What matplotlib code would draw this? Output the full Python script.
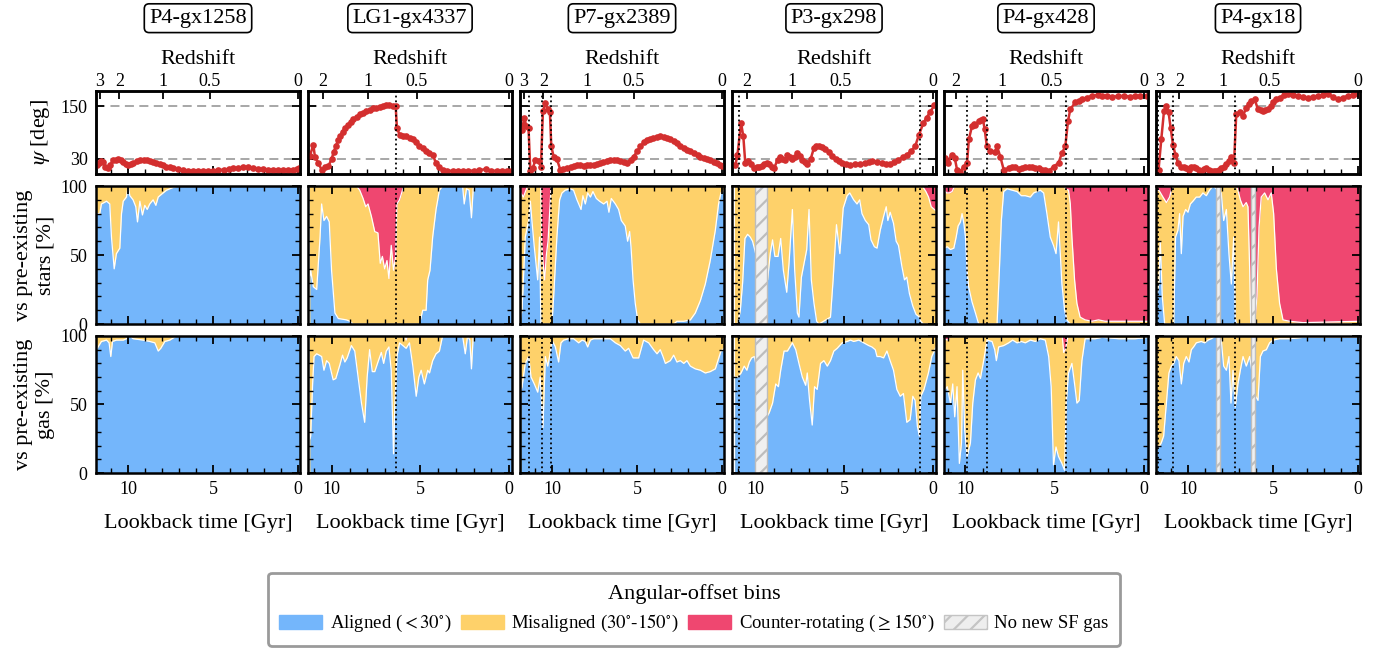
import numpy as np
import matplotlib.pyplot as plt
from matplotlib.patches import Patch
from matplotlib.ticker import MultipleLocator

# ---------------- data ----------------
names = ['P4-gx1258', 'LG1-gx4337', 'P7-gx2389', 'P3-gx298', 'P4-gx428', 'P4-gx18']
xlims = [(11.9, -0.1), (11.35, -0.17), (11.9, -0.1), (11.35, -0.17), (11.2, -0.22), (11.9, -0.1)]
events = [[], [6.4], [11.35, 10.6, 10.1], [10.95, 0.73], [9.9, 8.77, 4.36], [11.76, 10.9, 7.24]]
no_gas = [[], [], [], [(10.06, 9.38)], [], [(8.35, 8.12), (6.3, 6.06)]]
z_ticks = [3, 2, 1, 0.5, 0]
z_labels = ['3', '2', '1', '0.5', '0']

# P4-gx1258
p1_psi_t = [11.87, 11.75, 11.6, 11.48, 11.35, 11.2, 11.05, 10.9, 10.75, 10.6, 10.45, 10.3, 10.15, 10.0,
            9.85, 9.7, 9.5, 9.3, 9.1, 8.9, 8.7, 8.54, 8.35, 8.15, 7.95, 7.76, 7.55, 7.36, 7.05, 6.77,
            6.5, 6.19, 5.9, 5.6, 5.3, 5.0, 4.7, 4.4, 4.1, 3.83, 3.55, 3.24, 2.95, 2.66, 2.35, 2.07,
            1.8, 1.48, 1.2, 0.9, 0.6, 0.31, 0.1, -0.07]
p1_psi = [16, 20, 24, 22, 12, 8, 16, 27, 28, 29, 26, 22, 18, 16, 18, 20, 24, 27, 28, 28, 25, 22, 20, 18,
          15, 12, 10, 8, 6, 4, 3, 3, 2, 2, 2, 3, 4, 5, 6, 8, 9, 10, 10, 9, 7, 6, 5, 5, 4, 4, 5, 5, 6, 8]
p1_star_t = [11.87, 11.68, 11.58, 11.28, 11.09, 10.99, 10.83, 10.70, 10.50, 10.40, 10.30, 10.11, 10.01,
             9.91, 9.72, 9.56, 9.46, 9.32, 9.17, 9.03, 8.89, 8.74, 8.54, 8.38, 8.24, 8.05, 7.75, 7.36,
             7.07, -0.1]
p1_star_al = [80, 80, 87, 89, 87, 63, 40, 51, 55, 80, 89, 92, 100, 93, 90, 85, 74, 89, 79, 86, 83, 87,
              90, 86, 92, 94, 97, 99, 100, 100]
p1_star_cr_t = []
p1_star_cr = []
p1_gas_t = [11.87, 11.78, 11.58, 11.28, 11.13, 11.03, 10.93, 10.7, 10.3, 10.11, 9.91, 9.72, 9.13, 8.74,
            8.44, 8.24, 8.09, 7.85, 7.56, 7.17, -0.1]
p1_gas_al = [90, 92, 96, 97, 95, 85, 96, 97, 97, 98, 100, 98, 97, 96, 95, 89, 91, 96, 97, 100, 100]
p1_gas_cr_t = []
p1_gas_cr = []

# LG1-gx4337
p2_psi_t = [11.24, 11.05, 10.96, 10.77, 10.58, 10.39, 10.2, 10.02, 9.9, 9.77, 9.65, 9.55, 9.4, 9.25,
            9.1, 8.95, 8.8, 8.6, 8.43, 8.25, 8.05, 7.85, 7.68, 7.5, 7.3, 7.1, 6.93, 6.75, 6.55, 6.4,
            6.33, 6.18, 6.0, 5.8, 5.6, 5.43, 5.25, 5.06, 4.87, 4.68, 4.5, 4.31, 4.12, 3.95, 3.75, 3.5,
            3.18, 2.9, 2.6, 2.3, 2.0, 1.7, 1.31, 1.0, 0.7, 0.4, 0.1, -0.12]
p2_psi = [37, 62, 35, 20, 5, 12, 13, 29, 45, 60, 72, 81, 92, 100, 108, 114, 120, 126, 132, 135, 139,
          142, 145, 147, 149, 150, 152, 152, 151, 151, 101, 85, 83, 81, 78, 74, 68, 58, 54, 47, 43, 39,
          20, 10, 5, 3, 2, 2, 1, 2, 3, 4, 6, 3, 2, 1, 1, 1]
p2_star_t = [11.24, 11.2, 11.05, 10.86, 10.67, 10.58, 10.45, 10.3, 10.15, 10.02, 9.83, 9.64, 9.18, 8.99,
             8.8, 5.06, 4.87, 4.68, 4.59, 4.46, 4.31, 4.12, 3.93, 3.75, 2.62, 2.53, 2.4, 2.25, 2.12,
             2.02, 1.87, -0.17]
p2_star_al = [35, 39, 27, 25, 63, 87, 75, 78, 74, 39, 8, 4, 3, 2, 0, 0, 10, 10, 32, 39, 63, 83, 97, 100,
              100, 87, 98, 97, 77, 98, 100, 100]
p2_star_cr_t = [8.61, 8.43, 8.24, 8.09, 7.96, 7.77, 7.58, 7.4, 7.27, 7.15, 7.02, 6.89, 6.78, 6.65, 6.52,
                6.4, 6.33, 6.18, 5.99, 5.9]
p2_star_cr = [0, 3, 9, 15, 13, 22, 33, 34, 56, 51, 60, 54, 67, 43, 61, 51, 13, 10, 2, 0]
p2_gas_t = [11.24, 11.2, 11.09, 11.01, 10.86, 10.71, 10.58, 10.45, 10.3, 10.15, 9.93, 9.78, 9.55, 9.4,
            9.27, 9.14, 8.9, 8.71, 8.52, 8.33, 8.15, 8.01, 7.87, 7.72, 7.58, 7.4, 7.21, 7.08, 6.93, 6.78,
            6.65, 6.52, 6.44, 6.33, 6.18, 5.99, 5.81, 5.62, 5.43, 5.24, 5.09, 4.96, 4.78, 4.59, 4.49,
            4.31, 4.12, 3.93, 3.75, 2.62, 2.47, 2.34, 2.21, 2.12, 2.02, -0.17]
p2_gas_al = [25, 27, 65, 85, 87, 86, 85, 75, 82, 80, 68, 69, 79, 86, 81, 84, 93, 89, 70, 51, 37, 70, 90,
             74, 74, 81, 88, 80, 89, 92, 75, 14, 51, 85, 95, 93, 91, 95, 78, 56, 70, 75, 65, 75, 73, 82,
             87, 89, 100, 100, 87, 100, 97, 76, 100, 100]
p2_gas_cr_t = [5.88, 5.81, 5.74]
p2_gas_cr = [0, 3, 0]

# P7-gx2389
p3_psi_t = [11.78, 11.65, 11.53, 11.4, 11.29, 11.14, 11.0, 10.8, 10.67, 10.55, 10.41, 10.27, 10.14, 10.06,
            9.92, 9.73, 9.53, 9.35, 9.14, 8.9, 8.7, 8.55, 8.35, 8.15, 7.95, 7.76, 7.55, 7.35, 7.18, 7.0,
            6.8, 6.59, 6.4, 6.2, 6.0, 5.8, 5.61, 5.4, 5.22, 5.0, 4.82, 4.6, 4.42, 4.24, 4.05, 3.85, 3.65,
            3.45, 3.25, 3.06, 2.85, 2.65, 2.47, 2.25, 2.05, 1.88, 1.65, 1.45, 1.29, 1.1, 0.9, 0.71, 0.5,
            0.3, 0.15, 0.0]
p3_psi = [95, 124, 105, 100, 1, 8, 28, 24, 12, 139, 157, 143, 136, 58, 35, 29, 5, 6, 8, 11, 13, 15, 15,
          14, 15, 15, 16, 17, 20, 22, 24, 28, 27, 26, 24, 22, 20, 28, 35, 47, 58, 68, 72, 75, 78, 80, 81,
          80, 78, 74, 70, 65, 58, 54, 50, 47, 43, 39, 35, 32, 30, 26, 23, 20, 16, 14]
p3_star_t = [11.85, 11.78, 11.59, 11.39, 11.29, 11.2, 11.06, 10.86, 10.75, 10.67, 10.02, 9.92, 9.73, 9.57,
             9.43, 9.24, 8.94, 8.75, 8.55, 8.31, 8.2, 8.06, 7.92, 7.76, 7.61, 7.41, 7.22, 6.98, 6.78,
             6.67, 6.53, 6.29, 6.1, 5.94, 5.71, 5.57, 5.45, 5.37, 5.25, 5.12, 4.98, 4.82, 2.86, 2.67,
             2.27, 1.88, 1.59, 1.29, 1.0, 0.71, 0.41, 0.22, 0.08, -0.1]
p3_star_al = [5, 10, 63, 75, 89, 75, 56, 32, 63, 0, 0, 20, 63, 90, 95, 97, 98, 97, 90, 83, 93, 87, 95, 92,
              96, 91, 89, 87, 89, 81, 91, 87, 83, 75, 71, 60, 67, 56, 32, 15, 3, 0, 0, 2, 2, 3, 8, 17, 29,
              46, 68, 87, 95, 97]
p3_star_cr_t = [11.85, 11.7, 11.55, 11.45, 10.68, 10.63, 10.55, 10.45, 10.35, 10.25, 10.16, 10.07]
p3_star_cr = [5, 8, 3, 0, 0, 40, 55, 68, 50, 40, 20, 0]
p3_gas_t = [11.85, 11.78, 11.59, 11.39, 11.25, 11.06, 10.86, 10.71, 10.55, 10.41, 10.27, 10.16, 10.02,
            9.82, 9.63, 9.49, 9.33, 9.04, 8.75, 8.45, 8.25, 8.06, 7.92, 7.76, 7.57, 6.98, 6.59, 6.29, 6.0,
            5.71, 5.51, 5.25, 4.92, 4.63, 4.33, 4.04, 3.84, 3.65, 3.49, 3.35, 3.06, 2.86, 2.67, 2.47,
            2.27, 2.08, 1.88, 1.59, 1.29, 1.0, 0.71, 0.41, 0.08, -0.1]
p3_gas_al = [60, 63, 80, 85, 70, 65, 59, 70, 33, 85, 78, 85, 97, 92, 81, 95, 97, 98, 98, 95, 97, 96, 92,
             97, 98, 98, 98, 95, 93, 89, 91, 84, 84, 97, 95, 90, 87, 90, 85, 80, 82, 86, 81, 82, 80, 82,
             78, 76, 75, 73, 74, 76, 89, 91]
p3_gas_cr_t = []
p3_gas_cr = []

# P3-gx298
p4_psi_t = [11.16, 11.04, 10.84, 10.71, 10.6, 10.47, 10.28, 10.1, 9.95, 9.81, 9.67, 9.53, 9.39, 9.25, 9.1,
            8.97, 8.78, 8.64, 8.5, 8.36, 8.22, 8.08, 7.94, 7.8, 7.66, 7.52, 7.38, 7.24, 7.1, 6.91, 6.72,
            6.6, 6.44, 6.25, 6.07, 5.88, 5.69, 5.5, 5.31, 5.12, 4.94, 4.66, 4.38, 4.1, 3.82, 3.63, 3.44,
            3.16, 2.88, 2.65, 2.42, 2.18, 1.95, 1.72, 1.48, 1.25, 1.01, 0.79, 0.54, 0.36, 0.17, -0.07]
p4_psi = [15, 39, 112, 81, 20, 24, 17, 8, 10, 12, 14, 17, 20, 17, 12, 8, 28, 33, 29, 26, 39, 35, 29, 33,
          42, 36, 28, 22, 17, 29, 55, 58, 60, 57, 52, 45, 37, 30, 24, 20, 17, 15, 17, 18, 20, 22, 24, 22,
          20, 18, 17, 22, 28, 33, 39, 47, 58, 85, 112, 124, 136, 152]
p4_star_t = [11.2, 11.03, 10.88, 10.75, 10.62, 10.47, 10.32, 10.19, 10.09, 9.9, 9.34, 9.19, 9.06, 8.93,
             8.75, 8.6, 8.45, 8.26, 8.13, 7.94, 7.81, 7.66, 7.57, 7.43, 7.28, 7.13, 7.0, 6.87, 6.72, 6.57,
             6.44, 5.79, 5.64, 5.45, 5.26, 5.07, 4.85, 4.7, 4.48, 4.29, 4.14, 4.01, 3.82, 3.63, 3.5, 3.31,
             3.16, 2.98, 2.79, 2.64, 2.55, 2.42, 2.23, 2.08, 1.95, 1.76, 1.61, 1.48, 1.33, 1.14, 0.96,
             0.77, 0.69, 0.54, -0.17]
p4_star_al = [0, 0, 10, 30, 62, 65, 63, 60, 55, 45, 32, 51, 61, 49, 49, 62, 39, 23, 44, 83, 39, 8, 5, 34,
              44, 54, 83, 32, 15, 2, 0, 5, 32, 72, 51, 84, 93, 95, 90, 87, 90, 80, 75, 72, 61, 56, 55, 68,
              78, 85, 75, 81, 73, 60, 57, 42, 32, 34, 22, 13, 7, 5, 2, 0, 0]
p4_star_cr_t = [0.6, 0.4, 0.25, 0.1, -0.17]
p4_star_cr = [0, 4, 8, 15, 18]
p4_gas_t = [11.2, 11.03, 10.84, 10.66, 10.51, 10.37, 10.24, 10.09, 9.7, 9.38, 9.25, 9.06, 8.88, 8.73, 8.6,
            8.41, 8.22, 7.94, 7.75, 7.57, 7.38, 7.19, 7.1, 6.97, 6.82, 6.69, 6.54, 6.35, 6.16, 5.97, 5.79,
            5.6, 5.41, 5.13, 4.85, 4.66, 4.48, 4.19, 3.91, 3.63, 3.45, 3.26, 3.16, 2.98, 2.79, 2.6, 2.42,
            2.23, 2.04, 1.85, 1.67, 1.48, 1.29, 1.14, 1.01, 0.88, 0.77, 0.69, 0.51, 0.26, 0.07, -0.17]
p4_gas_al = [70, 70, 73, 78, 75, 81, 84, 85, 60, 41, 44, 51, 65, 63, 75, 89, 89, 95, 90, 80, 70, 64, 73,
             53, 35, 63, 61, 80, 82, 78, 82, 89, 91, 95, 96, 97, 96, 97, 95, 93, 92, 90, 85, 85, 84, 89,
             82, 75, 61, 56, 58, 37, 39, 56, 53, 34, 27, 56, 61, 73, 85, 92]
p4_gas_cr_t = []
p4_gas_cr = []

# P4-gx428
p5_psi_t = [11.16, 10.97, 10.78, 10.6, 10.47, 10.28, 10.1, 9.91, 9.81, 9.63, 9.53, 9.44, 9.26, 9.15, 9.03,
            8.92, 8.8, 8.61, 8.36, 8.23, 8.05, 7.86, 7.58, 7.4, 7.21, 7.0, 6.84, 6.65, 6.46, 6.27, 6.09,
            5.9, 5.72, 5.52, 5.35, 5.07, 4.79, 4.6, 4.41, 4.26, 4.13, 3.85, 3.65, 3.48, 3.2, 2.92, 2.6,
            2.36, 2.1, 1.8, 1.44, 1.1, 0.8, 0.51, 0.2, -0.15]
p5_psi = [32, 20, 39, 32, 5, 0, 12, 20, 74, 105, 110, 107, 116, 118, 122, 97, 58, 47, 45, 58, 35, 5, 8,
          10, 12, 6, 8, 10, 12, 11, 8, 9, 5, 4, 1, 12, 20, 43, 58, 116, 143, 159, 163, 166, 170, 174,
          176, 173, 174, 172, 173, 174, 172, 173, 173, 174]
p5_star_t = [11.2, 11.02, 10.84, 10.65, 10.52, 10.41, 10.28, 10.19, 10.09, 10.0, 9.91, 9.82, 9.63, 9.44,
             9.26, 8.23, 8.1, 7.99, 7.86, 7.67, 7.39, 7.11, 6.87, 6.65, 6.37, 6.18, 6.0, 5.81, 5.62, 5.44,
             5.25, 5.07, 4.93, 4.79, 4.69, 4.6, 4.45, 4.32, 4.13, -0.22]
p5_star_al = [55, 56, 54, 55, 63, 71, 74, 80, 73, 63, 39, 27, 16, 8, 0, 0, 39, 75, 96, 98, 97, 96, 93, 93,
              92, 95, 96, 97, 95, 80, 63, 57, 51, 74, 51, 29, 10, 3, 0, 0]
p5_star_cr_t = [11.2, 11.05, 10.9, 10.75, 10.6, 4.45, 4.41, 4.23, 4.13, 4.04, 3.89, 3.76, 3.58, 3.3, 2.92,
                2.55, 2.18, 1.81, 1.25, 0.5, -0.22]
p5_star_cr = [3, 5, 5, 4, 0, 0, 2, 3, 13, 37, 68, 85, 95, 97, 98, 97, 98, 98, 98, 98, 98]
p5_gas_t = [11.2, 11.02, 10.84, 10.71, 10.6, 10.47, 10.34, 10.22, 10.15, 10.04, 9.91, 9.72, 9.59, 9.44,
            9.29, 9.16, 8.98, 8.79, 8.51, 8.36, 8.27, 8.14, 7.86, 7.58, 7.36, 7.11, 6.87, 6.65, 6.37, 6.09,
            5.81, 5.53, 5.34, 5.2, 5.07, 4.93, 4.79, 4.6, 4.45, 4.36, 4.23, 4.04, 3.89, 3.76, 3.63, 3.48,
            3.3, 2.74, 2.36, 1.43, 0.5, -0.22]
p5_gas_al = [60, 63, 51, 65, 41, 63, 7, 22, 75, 31, 12, 22, 51, 68, 73, 69, 82, 97, 96, 90, 82, 92, 93,
             95, 97, 95, 96, 95, 97, 96, 98, 97, 85, 63, 6, 19, 12, 7, 2, 51, 73, 80, 65, 51, 53, 82, 98,
             98, 99, 98, 98, 99]
p5_gas_cr_t = [11.2, 11.0, 10.85, 4.58, 4.5, 4.42, 4.34, 4.26]
p5_gas_cr = [2, 3, 0, 0, 12, 10, 6, 0]

# P4-gx18
p6_psi_t = [11.75, 11.59, 11.43, 11.29, 11.16, 11.04, 10.9, 10.76, 10.6, 10.41, 10.27, 10.12, 9.97, 9.82,
            9.68, 9.53, 9.38, 9.24, 9.09, 8.94, 8.8, 8.65, 8.5, 8.35, 8.2, 8.06, 7.9, 7.76, 7.62, 7.47,
            7.31, 7.18, 6.98, 6.78, 6.59, 6.44, 6.29, 6.1, 5.9, 5.75, 5.61, 5.46, 5.31, 5.15, 5.02, 4.85,
            4.63, 4.4, 4.14, 3.85, 3.55, 3.25, 2.96, 2.65, 2.37, 2.07, 1.78, 1.5, 1.2, 0.9, 0.61, 0.3,
            0.02]
p6_psi = [5, 74, 139, 151, 136, 101, 62, 39, 20, 12, 10, 8, 5, 12, 10, 8, 4, 1, 6, 8, 5, 3, 2, 1, 4, 8,
          12, 17, 25, 35, 20, 132, 136, 128, 147, 155, 162, 166, 143, 141, 139, 141, 143, 150, 159, 166,
          170, 175, 178, 176, 174, 172, 170, 172, 174, 176, 178, 172, 166, 170, 174, 176, 178]
p6_star_t = [11.85, 11.73, 11.65, 11.53, 11.39, 10.86, 10.75, 10.61, 10.51, 10.41, 10.31, 10.16, 10.02,
             9.88, 9.73, 9.53, 9.33, 9.14, 8.94, 8.75, 8.55, 8.06, 7.92, 7.76, 7.61, 7.47, 7.33, 7.24,
             7.18, -0.1]
p6_star_al = [20, 30, 60, 20, 0, 0, 63, 68, 80, 51, 78, 83, 81, 87, 89, 92, 92, 95, 93, 97, 100, 95, 75,
              83, 51, 29, 63, 5, 0, 0]
p6_star_cr_t = [11.85, 11.73, 11.49, 11.29, 11.1, 10.94, 7.18, 7.08, 6.94, 6.78, 6.59, 6.49, 6.39, 6.33,
                6.06, 5.96, 5.84, 5.71, 5.51, 5.31, 5.12, 4.98, 4.82, 4.63, 4.43, 4.04, 3.25, -0.1]
p6_star_cr = [3, 3, 8, 12, 8, 0, 0, 3, 10, 15, 12, 15, 60, 100, 95, 80, 30, 8, 5, 10, 5, 20, 60, 85, 97,
              98, 99, 98]
p6_gas_t = [11.85, 11.73, 11.59, 11.45, 11.29, 11.14, 11.0, 10.86, 10.71, 10.55, 10.41, 10.27, 10.12,
            9.96, 9.82, 9.69, 9.53, 9.24, 9.04, 8.84, 8.65, 8.39, 8.06, 7.92, 7.76, 7.61, 7.49, 7.37, 7.24,
            7.08, 6.94, 6.78, 6.59, 6.39, 6.04, 5.9, 5.76, 5.61, 5.41, 5.22, 5.02, 4.63, 4.04, 3.25, -0.1]
p6_gas_al = [20, 19, 22, 27, 51, 73, 78, 80, 85, 82, 65, 80, 85, 81, 90, 92, 95, 96, 95, 97, 98, 100, 97,
             78, 75, 85, 51, 75, 48, 65, 75, 85, 78, 85, 56, 53, 85, 89, 90, 95, 97, 98, 98, 99, 99]
p6_gas_cr_t = []
p6_gas_cr = []

psi_data = [(p1_psi_t, p1_psi), (p2_psi_t, p2_psi), (p3_psi_t, p3_psi),
            (p4_psi_t, p4_psi), (p5_psi_t, p5_psi), (p6_psi_t, p6_psi)]
star_data = [(p1_star_t, p1_star_al, p1_star_cr_t, p1_star_cr), (p2_star_t, p2_star_al, p2_star_cr_t, p2_star_cr),
             (p3_star_t, p3_star_al, p3_star_cr_t, p3_star_cr), (p4_star_t, p4_star_al, p4_star_cr_t, p4_star_cr),
             (p5_star_t, p5_star_al, p5_star_cr_t, p5_star_cr), (p6_star_t, p6_star_al, p6_star_cr_t, p6_star_cr)]
gas_data = [(p1_gas_t, p1_gas_al, p1_gas_cr_t, p1_gas_cr), (p2_gas_t, p2_gas_al, p2_gas_cr_t, p2_gas_cr),
            (p3_gas_t, p3_gas_al, p3_gas_cr_t, p3_gas_cr), (p4_gas_t, p4_gas_al, p4_gas_cr_t, p4_gas_cr),
            (p5_gas_t, p5_gas_al, p5_gas_cr_t, p5_gas_cr), (p6_gas_t, p6_gas_al, p6_gas_cr_t, p6_gas_cr)]

BLUE = '#74b6fb'
YELLOW = '#fed16a'
PINK = '#ef4770'
LINE_RED = '#d32f2f'

plt.rcParams.update({
    'font.family': ['Liberation Serif', 'DejaVu Serif'],
    'mathtext.fontset': 'stix',
    'font.size': 13,
    'axes.linewidth': 1.8,
    'xtick.direction': 'in', 'ytick.direction': 'in',
    'xtick.top': True, 'ytick.right': True,
    'xtick.major.size': 6, 'ytick.major.size': 6,
    'xtick.minor.size': 3.5, 'ytick.minor.size': 3.5,
    'xtick.major.width': 1.3, 'ytick.major.width': 1.3,
    'xtick.minor.width': 1.0, 'ytick.minor.width': 1.0,
    'xtick.major.pad': 6, 'ytick.major.pad': 6,
    'xtick.labelsize': 13, 'ytick.labelsize': 13,
    'hatch.linewidth': 1.6,
})


def lookback(z):
    # flat LCDM, h=0.6777, Om=0.307
    zz = np.linspace(0, z, 4001)
    f = 1.0 / ((1 + zz) * np.sqrt(0.307 * (1 + zz) ** 3 + 0.693))
    return 977.8 / 67.77 * np.trapezoid(f, zz)


def draw_fractions(ax, t, aligned, tc, counter):
    ax.fill_between([t[0], t[-1]], 0, 100, color=YELLOW, lw=0, zorder=1)
    ax.fill_between(t, 0, aligned, color=BLUE, lw=0, zorder=1.1)
    ax.plot(t, aligned, color='white', lw=0.9, zorder=1.3)
    if len(tc):
        top = 100 - np.array(counter)
        ax.fill_between(tc, top, 100, color=PINK, lw=0, zorder=1.2)
        ax.plot(tc, top, color='white', lw=0.9, zorder=1.3)


fig = plt.figure(figsize=(13.89, 6.5), dpi=100)
W = 204 / 1389
z_pos = [lookback(z) for z in z_ticks]

for i in range(6):
    left = (96 + 212 * i) / 1389
    ax_psi = fig.add_axes([left, 0.7323, W, 0.1277])
    ax_st = fig.add_axes([left, 0.5015, W, 0.2123])
    ax_gas = fig.add_axes([left, 0.2723, W, 0.2108])

    # angle panel
    t, psi = psi_data[i]
    ax_psi.axhline(30, color='#a0a0a0', ls=(0, (5, 3)), lw=1.3, zorder=1)
    ax_psi.axhline(150, color='#a0a0a0', ls=(0, (5, 3)), lw=1.3, zorder=1)
    ax_psi.plot(t, psi, '-o', color=LINE_RED, lw=1.8, ms=4.8, mew=0, zorder=3)
    ax_psi.set_ylim(-5, 185)
    ax_psi.set_yticks([30, 150])
    ax_psi.tick_params(top=False, labelbottom=False)

    draw_fractions(ax_st, *star_data[i])
    draw_fractions(ax_gas, *gas_data[i])

    for ax in (ax_psi, ax_st, ax_gas):
        ax.set_xlim(*xlims[i])
        ax.xaxis.set_major_locator(MultipleLocator(5))
        ax.xaxis.set_minor_locator(MultipleLocator(1))
        for ev in events[i]:
            ax.axvline(ev, color='black', ls=':', lw=1.3, zorder=4)
        if i > 0:
            ax.tick_params(labelleft=False)

    for ax in (ax_st, ax_gas):
        ax.set_ylim(0, 100)
        ax.yaxis.set_major_locator(MultipleLocator(50))
        ax.yaxis.set_minor_locator(MultipleLocator(10))
        ax.tick_params(which='both', top=True, right=True)
        for a, b in no_gas[i]:
            ax.axvspan(a, b, facecolor='#f0f0f0', edgecolor='#bdbdbd', hatch='//', lw=1.0, zorder=2)
    ax_st.tick_params(labelbottom=False)
    ax_psi.tick_params(which='minor', top=False)

    ax_gas.set_xlabel('Lookback time [Gyr]', fontsize=16, labelpad=11)

    # redshift axis on top
    twin = ax_psi.twiny()
    twin.set_xlim(*xlims[i])
    keep = [k for k, p in enumerate(z_pos) if p <= xlims[i][0]]
    twin.set_xticks([z_pos[k] for k in keep])
    twin.set_xticklabels([z_labels[k] for k in keep])
    twin.tick_params(direction='in', length=6, width=1.3, pad=1, bottom=False)
    twin.xaxis.set_minor_locator(plt.NullLocator())
    twin.set_xlabel('Redshift', fontsize=16, labelpad=6)

    fig.text(left + W / 2, 0.972, names[i], ha='center', va='center', fontsize=16,
             bbox=dict(boxstyle='round,pad=0.22', fc='white', ec='black', lw=1.2))

    if i == 0:
        ax_psi.set_ylabel(r'$\psi$ [deg]', fontsize=16, labelpad=6)
        ax_st.set_ylabel('vs pre-existing\nstars [%]', fontsize=16, labelpad=4)
        ax_gas.set_ylabel('vs pre-existing\ngas [%]', fontsize=16, labelpad=4)

handles = [Patch(facecolor=BLUE, edgecolor=BLUE), Patch(facecolor=YELLOW, edgecolor=YELLOW),
           Patch(facecolor=PINK, edgecolor=PINK),
           Patch(facecolor='#eeeeee', edgecolor='#c4c4c4', hatch='//')]
labels = [r'Aligned ($<30^{\circ}$)', r'Misaligned ($30^{\circ}$-$150^{\circ}$)',
          r'Counter-rotating ($\geq150^{\circ}$)', 'No new SF gas']
leg = fig.legend(handles, labels, loc='center', bbox_to_anchor=(0.4996, 0.063), ncol=4,
                 title='Angular-offset bins', fontsize=13.5, title_fontsize=16, frameon=True,
                 fancybox=True, edgecolor='#9a9a9a', framealpha=1, handlelength=2.3,
                 handleheight=0.75, handletextpad=0.4, columnspacing=0.5, borderpad=0.6)
leg.get_frame().set_linewidth(2)

fig.savefig('out.png', dpi=100)
